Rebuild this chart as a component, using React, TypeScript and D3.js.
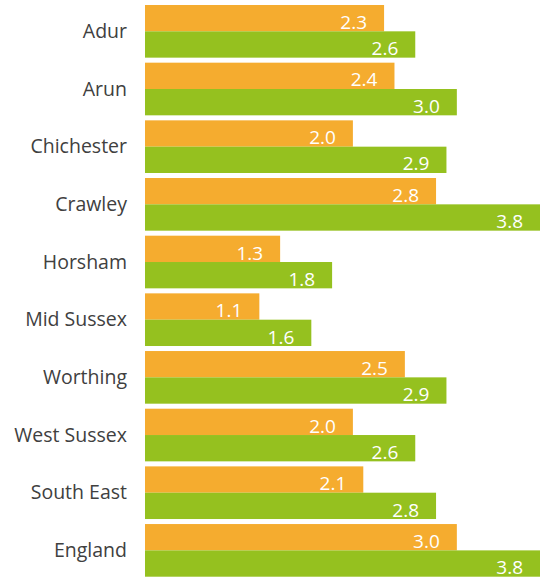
import React from "react";
import * as d3 from "d3";

const areas = ["Adur", "Arun", "Chichester", "Crawley", "Horsham", "Mid Sussex", "Worthing", "West Sussex", "South East", "England"];
const seriesA = [2.3, 2.4, 2.0, 2.8, 1.3, 1.1, 2.5, 2.0, 2.1, 3.0];
const seriesB = [2.6, 3.0, 2.9, 3.8, 1.8, 1.6, 2.9, 2.6, 2.8, 3.8];
const colors = ["#F5AC2F", "#95C11F"];

export default function App() {
  const width = 541;
  const height = 579;
  const left = 145;

  const x = d3.scaleLinear().domain([0, 3.8]).range([left, 540]);
  const y = d3.scaleBand<string>().domain(areas).range([5, 576.7]).paddingInner(0.087).paddingOuter(0);
  const sub = d3.scaleBand<number>().domain([0, 1]).range([0, y.bandwidth()]).padding(0);

  const font = "'Open Sans', 'Noto Sans', sans-serif";

  return (
    <svg width={width} height={height} style={{ position: "absolute", left: 0, top: 0, display: "block" }}>
      {areas.map((a, i) => {
        const gy = y(a)!;
        return (
          <g key={a}>
            <text x={127} y={gy + y.bandwidth() / 2} dy="0.34em" textAnchor="end"
              fontFamily={font} fontSize={19.5} fill="#404040">{a}</text>
            {[seriesA[i], seriesB[i]].map((v, k) => {
              const by = gy + sub(k)!;
              return (
                <g key={k}>
                  <rect x={x(0)} y={by} width={x(v) - x(0)} height={sub.bandwidth()} fill={colors[k]} />
                  <text x={x(v) - 17} y={by + sub.bandwidth() - 2.5} textAnchor="end"
                    fontFamily={font} fontSize={19} fill="#ffffff">{v.toFixed(1)}</text>
                </g>
              );
            })}
          </g>
        );
      })}
    </svg>
  );
}
